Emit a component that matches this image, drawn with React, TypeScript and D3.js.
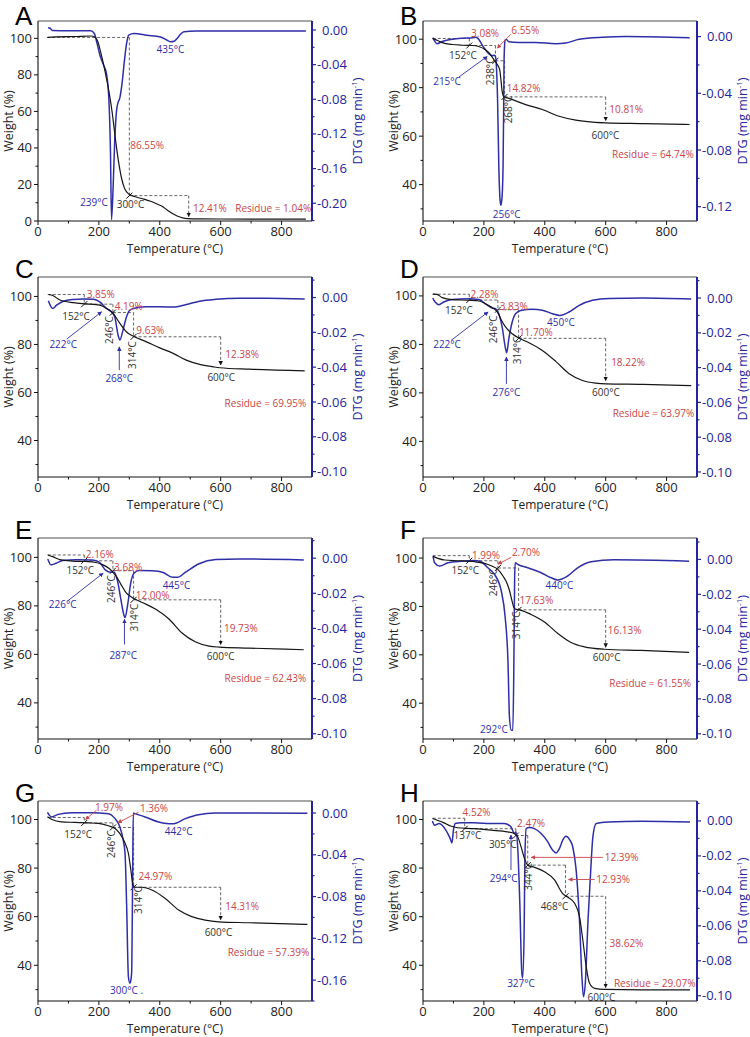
import React from "react";
import * as d3 from "d3";

type P = [number, number];
type Ann = [string, number, number, string, string, number?];
type Arw = [number, number, number, number, string];

// ---------- Panel A ----------
const tgaA: P[] = [[31,100.5],[60,100.8],[120,101],[173,101.3],[188,100.6],[197,98],[205,93],[215,86],[225,78],[236,68],[244,59],[252,48],[258,40],[266,31],[275,23],[284,18],[293,15.5],[304,14.2],[325,13],[348,12],[370,10.8],[391,9.3],[410,7.8],[424,6],[440,4.2],[457,2.7],[475,1.7],[490,1.3],[530,1.15],[600,1.1],[700,1.05],[880,1.0]];
const dtgA: P[] = [[33,0.0027],[40,0.002],[47,-0.0005],[100,-0.0008],[173,-0.0008],[185,-0.004],[194,-0.0155],[205,-0.031],[216,-0.041],[225,-0.0505],[233,-0.0816],[238,-0.14],[241.5,-0.219],[247,-0.179],[252,-0.128],[258,-0.093],[262,-0.085],[269,-0.078],[276,-0.062],[284,-0.035],[291,-0.0155],[298,-0.0058],[315,-0.004],[358,-0.006],[402,-0.008],[420,-0.011],[435,-0.0136],[447,-0.013],[457,-0.0097],[468,-0.005],[479,-0.002],[520,-0.0012],[600,-0.0012],[880,-0.0012]];
const stepTA = [30, 300, 495];
const stepWA = [100.5, 13.9, 1.3];
const annA: Ann[] = [["435°C",435,94,"b","m"],["86.55%",303,41.2,"r","s"],["239°C",184,10.2,"b","m"],["300°C",304,8.8,"k","m"],["12.41%",509,6.9,"r","s"],["Residue = 1.04%",648,6.9,"r","s"]];
const arwA: Arw[] = [];

// ---------- Panel B ----------
const tgaB: P[] = [[32,100.3],[45,99.6],[63,98.6],[96,97.8],[129,97.5],[162,97.4],[183,97],[205,95.6],[222,93.6],[233,91.5],[244,89.5],[252,87.4],[256,83.3],[260,78.5],[266,76.2],[282,75.6],[337,73],[392,71],[447,68.2],[502,66.6],[557,65.8],[601,65.5],[722,65.2],[876,64.8]];
const dtgB: P[] = [[32,-0.0007],[38,-0.003],[46,-0.005],[63,-0.0035],[96,-0.0019],[129,-0.0012],[162,-0.0009],[174,-0.0005],[183,-0.0019],[194,-0.0058],[205,-0.0093],[216,-0.012],[226,-0.0135],[233,-0.0132],[238,-0.014],[242,-0.025],[245,-0.045],[249,-0.091],[253,-0.115],[256,-0.119],[260,-0.112],[263,-0.091],[265,-0.05],[266,-0.021],[268,-0.006],[270,-0.0023],[274,-0.002],[282,-0.0037],[315,-0.0042],[370,-0.0042],[436,-0.005],[469,-0.0045],[513,-0.0019],[590,-0.0005],[667,0],[876,-0.0009]];
const stepTB = [32, 152, 238, 268, 600];
const stepWB = [100.3, 97.4, 91.1, 76.2, 65.5];
const annB: Ann[] = [["3.08%",158,102.5,"r","s"],["6.55%",290,103.4,"r","s"],["152°C",131,93.3,"k","m"],["215°C",79,82.6,"b","m"],["238°C",222,86.7,"k","m",1],["14.82%",275,79.5,"r","s"],["268°C",280,71,"k","m",1],["10.81%",612,71,"r","s"],["600°C",599,60.3,"k","m"],["Residue = 64.74%",621,52.5,"r","s"],["256°C",275,27.8,"b","m"]];
const arwB: Arw[] = [[288,102,244,96.3,"r"],[118,84.4,211,92.9,"b"]];

// ---------- Panel C ----------
const tgaC: P[] = [[34,100.8],[50,100.3],[72,98.5],[116,97.4],[160,96.9],[203,96.4],[225,95],[247,92.9],[269,88.75],[290,85.3],[312,83.5],[356,81.1],[400,78.6],[444,76.3],[487,73.5],[531,71.7],[575,70.7],[597,70.3],[695,69.7],[876,69]];
const dtgC: P[] = [[34,-0.0019],[40,-0.0044],[48,-0.0063],[61,-0.0044],[83,-0.0021],[116,-0.0011],[149,-0.0008],[182,-0.001],[203,-0.0025],[225,-0.0063],[241,-0.0082],[252,-0.011],[263,-0.0215],[269,-0.0244],[278,-0.0196],[289,-0.012],[302,-0.0072],[324,-0.0059],[356,-0.0053],[400,-0.0053],[444,-0.0055],[487,-0.004],[531,-0.0021],[585,-0.001],[662,-0.0004],[750,-0.0004],[876,-0.0008]];
const stepTC = [32, 152, 246, 314, 600];
const stepWC = [100.8, 96.8, 93.3, 83.2, 70.6];
const annC: Ann[] = [["3.85%",160,101,"r","s"],["4.19%",252,96,"r","s"],["152°C",125,91.5,"k","m"],["222°C",83,80,"b","m"],["246°C",236,86,"k","m",1],["9.63%",323,86,"r","s"],["314°C",309,75.6,"k","m",1],["268°C",267,65.8,"b","m"],["12.38%",615,76,"r","s"],["600°C",602,66.3,"k","m"],["Residue = 69.95%",613,55.4,"r","s"]];
const arwC: Arw[] = [[94,82.2,209,93.6,"b"],[267,69.3,267,79,"b"]];

// ---------- Panel D ----------
const tgaD: P[] = [[32,100.7],[46,100.6],[63,99.3],[96,98.5],[150,98.2],[184,97.9],[205,96.8],[227,95.2],[244,93.4],[255,90.6],[271,87.2],[293,84.4],[315,82.6],[348,80.7],[392,77.5],[436,73],[480,67.9],[524,65.1],[568,64],[601,63.7],[722,63.5],[881,63]];
const dtgD: P[] = [[32,0],[40,-0.0023],[52,-0.0038],[68,-0.0023],[96,-0.0008],[150,-0.0004],[184,-0.0008],[205,-0.0033],[227,-0.0057],[238,-0.0061],[249,-0.009],[260,-0.0167],[271,-0.029],[275,-0.0314],[282,-0.0233],[293,-0.0138],[304,-0.009],[321,-0.0071],[359,-0.0065],[392,-0.007],[425,-0.009],[449,-0.01],[480,-0.008],[513,-0.0042],[557,-0.0013],[612,-0.0002],[722,0],[881,-0.0006]];
const stepTD = [32, 152, 246, 314, 600];
const stepWD = [100.7, 98.3, 94.3, 82.5, 64.2];
const annD: Ann[] = [["2.28%",156,100.7,"r","s"],["3.83%",252,95.7,"r","s"],["152°C",118,94.1,"k","m"],["222°C",79,79.9,"b","m"],["246°C",233,86.2,"k","m",1],["11.70%",315,84.8,"r","s"],["314°C",312,77.5,"k","m",1],["450°C",453,89.2,"b","m"],["276°C",274,60.3,"b","m"],["18.22%",618,72.7,"r","s"],["600°C",601,60.3,"k","m"],["Residue = 63.97%",623,51.3,"r","s"]];
const arwD: Arw[] = [[93,81.7,214,93.4,"b"],[274,63.7,274,74.8,"b"]];

// ---------- Panel E ----------
const tgaE: P[] = [[32,101],[48,100.3],[75,99],[114,98.5],[157,98.3],[190,97.9],[212,97],[234,95.4],[256,92.4],[272,89],[289,85.5],[310,83.4],[343,81.4],[387,78.6],[431,74.5],[474,68.7],[518,65.1],[562,63.4],[595,63],[693,62.6],[873,61.9]];
const dtgE: P[] = [[32,-0.0004],[43,-0.0038],[59,-0.0029],[81,-0.0013],[125,-0.0009],[179,-0.0011],[201,-0.0023],[223,-0.007],[239,-0.008],[250,-0.008],[261,-0.0128],[272,-0.0233],[283,-0.0328],[286,-0.0338],[294,-0.0271],[305,-0.0137],[316,-0.0084],[332,-0.007],[376,-0.0072],[409,-0.008],[442,-0.0109],[458,-0.0109],[485,-0.008],[529,-0.0032],[584,-0.0008],[660,-0.0004],[873,-0.001]];
const stepTE = [32, 152, 246, 314, 600];
const stepWE = [101, 98.6, 94.5, 82.5, 63.2];
const annE: Ann[] = [["2.16%",157,101,"r","s"],["3.68%",250,95.9,"r","s"],["152°C",139,94.5,"k","m"],["226°C",81,80.4,"b","m"],["246°C",242,86.9,"k","m",1],["12.00%",321,84.4,"r","s"],["314°C",316,75.2,"k","m",1],["445°C",455,88.6,"b","m"],["287°C",280,59.7,"b","m"],["19.73%",611,70.8,"r","s"],["600°C",600,59,"k","m"],["Residue = 62.43%",613,49.9,"r","s"]];
const arwE: Arw[] = [[97,82,214,93.5,"b"],[284,64.1,284,74.5,"b"]];

// ---------- Panel F ----------
const tgaF: P[] = [[33,100.7],[49,99.9],[71,99.2],[115,98.9],[169,98.5],[202,97.8],[224,96.8],[246,95.3],[262,92.7],[277,89.3],[284,86.6],[292,82.5],[298,79.7],[306,78.8],[322,78.4],[355,76.7],[399,73.6],[443,68.8],[486,65.1],[530,63.3],[596,62.3],[716,61.8],[874,61]];
const dtgF: P[] = [[33,0.0019],[38,-0.0019],[55,-0.0038],[82,-0.0019],[126,-0.001],[169,-0.0006],[191,-0.0013],[213,-0.0048],[235,-0.0086],[257,-0.018],[270,-0.0333],[279,-0.058],[284,-0.0905],[290,-0.098],[295,-0.098],[298,-0.068],[300,-0.03],[301,-0.0105],[303,-0.0019],[312,-0.0029],[344,-0.0048],[388,-0.0076],[421,-0.0105],[443,-0.0118],[475,-0.0095],[508,-0.0048],[552,-0.0013],[628,-0.0002],[874,-0.001]];
const stepTF = [32, 152, 246, 314, 600];
const stepWF = [101, 98.9, 95.9, 78.6, 62.3];
const annF: Ann[] = [["1.99%",161,101,"r","s"],["2.70%",292,102.3,"r","s"],["152°C",139,94.8,"k","m"],["246°C",232,90,"k","m",1],["17.63%",317,82.5,"r","s"],["314°C",306,72.2,"k","m",1],["440°C",448,88.6,"b","m"],["16.13%",607,69.9,"r","s"],["600°C",603,58.8,"k","m"],["Residue = 61.55%",612,48,"r","s"],["292°C",233,29,"b","m"]];
const arwF: Arw[] = [[290,100.3,246,97.5,"r"]];

// ---------- Panel G ----------
const tgaG: P[] = [[31,101.1],[44,100.1],[77,99],[121,98.8],[165,98.6],[198,98.4],[231,97.4],[253,96.3],[269,94.2],[284,90.8],[297,86],[305,79.2],[312,73],[319,72.1],[341,72.1],[374,71],[418,67.5],[462,62.7],[505,60],[549,58.6],[593,57.9],[692,57.5],[885,56.8]];
const dtgG: P[] = [[31,0.0006],[36,-0.0016],[44,-0.0038],[66,-0.0013],[110,0.0003],[176,0.0003],[231,-0.0006],[253,-0.0054],[269,-0.0134],[280,-0.026],[286,-0.039],[291,-0.0867],[297,-0.157],[302,-0.163],[306,-0.158],[308,-0.15],[311,-0.055],[313,0],[319,-0.0006],[352,-0.0038],[396,-0.0086],[429,-0.0102],[445,-0.0102],[484,-0.0054],[527,-0.0016],[582,0],[885,-0.0003]];
const stepTG = [32, 152, 246, 314, 600];
const stepWG = [100.8, 98.6, 96.7, 72.1, 57.9];
const annG: Ann[] = [["1.97%",187,104.8,"r","s"],["1.36%",335,104.5,"r","s"],["152°C",132,94,"k","m"],["246°C",242,89.9,"k","m",1],["442°C",462,94.9,"b","m"],["24.97%",330,76.4,"r","s"],["314°C",330,66.8,"k","m",1],["14.31%",615,64.1,"r","s"],["600°C",593,53.6,"k","m"],["Residue = 57.39%",623,45.2,"r","s"],["300°C .",291,29.5,"b","m"]];
const arwG: Arw[] = [[192,103.8,156,100,"r"],[330,103,262,98.6,"r"]];

// ---------- Panel H ----------
const tgaH: P[] = [[31,100.4],[47,99.7],[69,98.6],[91,97.3],[113,96.6],[168,96.2],[223,95.6],[278,94.9],[300,94.2],[311,92.9],[322,88.8],[333,84],[344,81.2],[366,80.3],[399,78.5],[432,75.1],[459,69.5],[476,68],[498,65.5],[514,60],[525,50.4],[536,39.5],[547,32.6],[564,30.5],[597,30.1],[718,29.9],[877,29.9]];
const dtgH: P[] = [[31,0],[38,-0.0025],[53,-0.0015],[75,-0.0053],[89,-0.01],[95,-0.0126],[100,-0.0053],[106,-0.0015],[124,-0.0011],[168,-0.0011],[223,-0.0015],[267,-0.0015],[289,-0.0034],[300,-0.0072],[305,-0.0063],[311,-0.0149],[318,-0.047],[324,-0.085],[327,-0.09],[332,-0.066],[335,-0.0187],[339,-0.0044],[349,-0.0038],[366,-0.0044],[388,-0.0072],[410,-0.012],[426,-0.0168],[437,-0.0183],[448,-0.0158],[459,-0.011],[470,-0.0088],[481,-0.0105],[492,-0.0149],[503,-0.028],[514,-0.057],[522,-0.089],[527,-0.1006],[533,-0.093],[542,-0.057],[551,-0.028],[558,-0.0091],[569,-0.0015],[608,-0.0006],[718,-0.0002],[877,-0.0006]];
const stepTH = [32, 137, 305, 344, 468, 600];
const stepWH = [100.5, 96.2, 93.4, 81.2, 68.4, 30];
const annH: Ann[] = [["4.52%",130,102.7,"r","s"],["137°C",146,93.2,"k","m"],["2.47%",309,98.4,"r","s"],["305°C",262,89.5,"k","m"],["294°C",265,75.8,"b","m"],["344°C",346,76.4,"k","m",1],["12.39%",597,84.4,"r","s"],["12.93%",569,75.3,"r","s"],["468°C",432,64.1,"k","m"],["38.62%",613,49,"r","s"],["327°C",322,32.6,"b","m"],["Residue = 29.07%",627,32.6,"r","s"],["600°C",586,26.8,"k","m"]];
const arwH: Arw[] = [[289,79.2,289,93.6,"b"],[591,84.4,355,84.4,"r"],[564,75.3,478,75.3,"r"]];

// ---------- axes ----------
const xTicks = [0, 200, 400, 600, 800];
const wTicksA = [0, 20, 40, 60, 80, 100];
const wTicks = [40, 60, 80, 100];
const dTicks04A = [0, -0.04, -0.08, -0.12, -0.16, -0.2];
const dTicks04B = [0, -0.04, -0.08, -0.12];
const dTicks02 = [0, -0.02, -0.04, -0.06, -0.08, -0.1];
const dTicks04G = [0, -0.04, -0.08, -0.12, -0.16];

const COL_X = [[38, 312], [423, 697]];
const ROW_Y = [[21, 221], [277, 477], [538, 739], [801, 1001]];

const panels = [
  { id: "A", col: 0, row: 0, tga: tgaA, dtg: dtgA, st: stepTA, sw: stepWA, ann: annA, arw: arwA, wDom: [0, 109.5], dDom: [-0.2205, 0.0104], wT: wTicksA, dT: dTicks04A },
  { id: "B", col: 1, row: 0, tga: tgaB, dtg: dtgB, st: stepTB, sw: stepWB, ann: annB, arw: arwB, wDom: [25, 107.5], dDom: [-0.1301, 0.011], wT: wTicks, dT: dTicks04B },
  { id: "C", col: 0, row: 1, tga: tgaC, dtg: dtgC, st: stepTC, sw: stepWC, ann: annC, arw: arwC, wDom: [24.8, 108.1], dDom: [-0.1031, 0.0118], wT: wTicks, dT: dTicks02 },
  { id: "D", col: 1, row: 1, tga: tgaD, dtg: dtgD, st: stepTD, sw: stepWD, ann: annD, arw: arwD, wDom: [25.3, 107.8], dDom: [-0.1029, 0.0121], wT: wTicks, dT: dTicks02 },
  { id: "E", col: 0, row: 2, tga: tgaE, dtg: dtgE, st: stepTE, sw: stepWE, ann: annE, arw: arwE, wDom: [25.1, 108], dDom: [-0.103, 0.0115], wT: wTicks, dT: dTicks02 },
  { id: "F", col: 1, row: 2, tga: tgaF, dtg: dtgF, st: stepTF, sw: stepWF, ann: annF, arw: arwF, wDom: [25.2, 108.3], dDom: [-0.103, 0.0123], wT: wTicks, dT: dTicks02 },
  { id: "G", col: 0, row: 3, tga: tgaG, dtg: dtgG, st: stepTG, sw: stepWG, ann: annG, arw: arwG, wDom: [25.3, 107.6], dDom: [-0.18, 0.0115], wT: wTicks, dT: dTicks04G },
  { id: "H", col: 1, row: 3, tga: tgaH, dtg: dtgH, st: stepTH, sw: stepWH, ann: annH, arw: arwH, wDom: [25.3, 107.6], dDom: [-0.103, 0.0114], wT: wTicks, dT: dTicks02 },
];

const FONT = "'Open Sans', 'DejaVu Sans', sans-serif";
const COLORS: Record<string, string> = { r: "#c94548", k: "#333333", b: "#2e2ea8" };
const BLUE = "#2e2ea8";
const AXBLUE = "#24249e";
const fmt = (v: number) => d3.format(".2f")(v).replace("\u2212", "-");

function Panel({ p }: { p: any }) {
  const [x0, x1] = COL_X[p.col];
  const [y0, y1] = ROW_Y[p.row];
  const xs = d3.scaleLinear().domain([0, 900]).range([x0, x1]);
  const yl = d3.scaleLinear().domain(p.wDom).range([y1, y0]);
  const yr = d3.scaleLinear().domain(p.dDom).range([y1, y0]);
  const lineW = d3.line<P>().x(d => xs(d[0])).y(d => yl(d[1])).curve(d3.curveMonotoneX);
  const lineD = d3.line<P>().x(d => xs(d[0])).y(d => yr(d[1])).curve(d3.curveMonotoneX);

  const xMinor = d3.range(100, 900, 200);
  const wStep = p.wT[1] - p.wT[0];
  const wMinor = [p.wT[0] - wStep / 2, ...p.wT.map((t: number) => t + wStep / 2)].filter((v: number) => v >= p.wDom[0] && v <= p.wDom[1]);
  const dStep = p.dT[0] - p.dT[1];
  const dMinor = [p.dT[0] + dStep / 2, ...p.dT.map((t: number) => t - dStep / 2)].filter((v: number) => v >= p.dDom[0] && v <= p.dDom[1]);

  const n = p.st.length;
  const segs: { x1: number; y1: number; x2: number; y2: number; arrow: boolean }[] = [];
  for (let i = 0; i < n - 1; i++) {
    segs.push({ x1: xs(p.st[i]), y1: yl(p.sw[i]), x2: xs(p.st[i + 1]), y2: yl(p.sw[i]), arrow: false });
    segs.push({ x1: xs(p.st[i + 1]), y1: yl(p.sw[i]), x2: xs(p.st[i + 1]), y2: yl(p.sw[i + 1]), arrow: i === n - 2 });
  }
  const midY = (y0 + y1) / 2;

  return (
    <g>
      <text x={x0 - 23} y={Math.max(y0 + 1, 25)} fontFamily="'Liberation Sans', Arial, sans-serif" fontSize={26} fill="#000">{p.id}</text>
      {/* staircase */}
      {segs.map((s, i) => (
        <line key={"s" + i} x1={s.x1} y1={s.y1} x2={s.x2} y2={s.arrow ? s.y2 - 2 : s.y2} stroke="#555" strokeWidth={0.9} strokeDasharray="3,2" markerEnd={s.arrow ? "url(#ak)" : undefined} />
      ))}
      {p.st.slice(1, n - 1).map((t: number, i: number) => (
        <line key={"m" + i} x1={xs(t) - 3} y1={yl(p.sw[i + 1]) + 3} x2={xs(t) + 3} y2={yl(p.sw[i + 1]) - 3} stroke="#111" strokeWidth={1} />
      ))}
      {/* curves */}
      <path d={lineD(p.dtg) || ""} fill="none" stroke={BLUE} strokeWidth={1.5} />
      <path d={lineW(p.tga) || ""} fill="none" stroke="#151515" strokeWidth={1.2} />
      {/* arrows */}
      {p.arw.map((a: Arw, i: number) => (
        <line key={"a" + i} x1={xs(a[0])} y1={yl(a[1])} x2={xs(a[2])} y2={yl(a[3])} stroke={COLORS[a[4]]} strokeWidth={0.9} markerEnd={`url(#a${a[4]})`} />
      ))}
      {/* annotations */}
      {p.ann.map((a: Ann, i: number) => {
        const x = xs(a[1]);
        const y = yl(a[2]);
        const anchor = a[4] === "s" ? "start" : a[4] === "e" ? "end" : "middle";
        return (
          <text key={"t" + i} x={x} y={y} dy="0.35em" textAnchor={anchor} fontFamily={FONT} fontSize={10} fill={COLORS[a[3]]}
            transform={a[5] ? `rotate(-90 ${x} ${y})` : undefined}>{a[0]}</text>
        );
      })}
      {/* frame */}
      <line x1={x0} y1={y0} x2={x1} y2={y0} stroke="#222" strokeWidth={0.8} />
      <line x1={x0} y1={y0} x2={x0} y2={y1} stroke="#111" strokeWidth={1.1} />
      <line x1={x0} y1={y1} x2={x1} y2={y1} stroke="#111" strokeWidth={1.1} />
      <line x1={x1} y1={y0} x2={x1} y2={y1} stroke={AXBLUE} strokeWidth={2} />
      {/* x ticks */}
      {xTicks.map(t => (
        <g key={"x" + t}>
          <line x1={xs(t)} x2={xs(t)} y1={y1} y2={y1 + 4} stroke="#111" />
          <text x={xs(t)} y={y1 + 15} textAnchor="middle" fontFamily={FONT} fontSize={13} fill="#222">{t}</text>
        </g>
      ))}
      {xMinor.map(t => <line key={"xm" + t} x1={xs(t)} x2={xs(t)} y1={y1} y2={y1 + 2.5} stroke="#111" />)}
      <text x={(x0 + x1) / 2} y={y1 + 31.5} textAnchor="middle" fontFamily={FONT} fontSize={12} fill="#222">Temperature (°C)</text>
      {/* left ticks */}
      {p.wT.map((t: number) => (
        <g key={"w" + t}>
          <line x1={x0 - 4} x2={x0} y1={yl(t)} y2={yl(t)} stroke="#111" />
          <text x={x0 - 6} y={yl(t)} dy="0.35em" textAnchor="end" fontFamily={FONT} fontSize={13} fill="#222">{t}</text>
        </g>
      ))}
      {wMinor.map((t: number) => <line key={"wm" + t} x1={x0 - 2.5} x2={x0} y1={yl(t)} y2={yl(t)} stroke="#111" />)}
      <text transform={`translate(${x0 - 29},${midY}) rotate(-90)`} dy="0.35em" textAnchor="middle" fontFamily={FONT} fontSize={12.5} fill="#222">Weight (%)</text>
      {/* right ticks */}
      {p.dT.map((t: number) => (
        <g key={"d" + t}>
          <line x1={x1} x2={x1 + 4} y1={yr(t)} y2={yr(t)} stroke={AXBLUE} strokeWidth={1.2} />
          <text x={x1 + (t < 0 ? 5 : 10)} y={yr(t)} dy="0.35em" textAnchor="start" fontFamily={FONT} fontSize={13} fill={AXBLUE}>{fmt(t)}</text>
        </g>
      ))}
      {dMinor.map((t: number) => <line key={"dm" + t} x1={x1} x2={x1 + 2.5} y1={yr(t)} y2={yr(t)} stroke={AXBLUE} strokeWidth={1.2} />)}
      <text transform={`translate(${x1 + 46},${midY}) rotate(-90)`} dy="0.35em" textAnchor="middle" fontFamily={FONT} fontSize={12.5} fill={AXBLUE}>
        DTG (mg min<tspan dy="-5" fontSize={8}>-1</tspan><tspan dy="5">)</tspan>
      </text>
    </g>
  );
}

export default function App() {
  return (
    <svg width={750} height={1037} style={{ position: "absolute", left: 0, top: 0, background: "#fff" }}>
      <defs>
        {Object.keys(COLORS).map(k => (
          <marker key={k} id={"a" + k} viewBox="0 0 10 10" refX="9" refY="5" markerWidth="5" markerHeight="5" orient="auto-start-reverse">
            <path d="M0,0 L10,5 L0,10 z" fill={k === "k" ? "#111" : COLORS[k]} />
          </marker>
        ))}
      </defs>
      <rect x={0} y={0} width={750} height={1037} fill="#fff" />
      {panels.map(p => <Panel key={p.id} p={p} />)}
    </svg>
  );
}
